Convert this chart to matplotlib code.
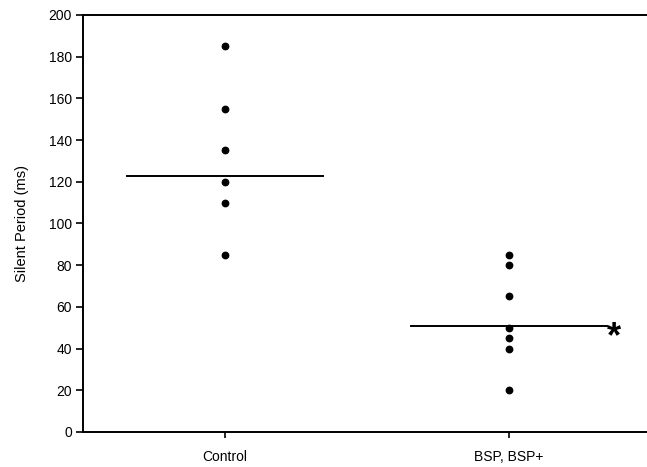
import matplotlib.pyplot as plt
import numpy as np

plt.rcParams['font.family'] = ['Liberation Sans', 'DejaVu Sans']

groups = ['Control', 'BSP, BSP+']
control = [185, 155, 135, 120, 110, 85]
bsp = [85, 80, 65, 50, 45, 40, 20]
group_lines = [123, 51]
yticks = [0, 20, 40, 60, 80, 100, 120, 140, 160, 180, 200]

fig = plt.figure(figsize=(6.47, 4.67), dpi=100)
ax = fig.add_axes([0.1283, 0.075, 0.8717, 0.893])

for i, vals in enumerate([control, bsp]):
    xpos = np.full(len(vals), i + 1)
    ax.plot(xpos, vals, 'o', color='black', markersize=4.6, zorder=3)
    ax.plot([i + 1 - 0.345, i + 1 + 0.345], [group_lines[i]] * 2,
            color='black', lw=1.4, zorder=2)

# significance mark
ax.text(2.37, group_lines[1] - 6, '*', fontsize=26, ha='center', va='center',
        fontweight='bold')

ax.set_xlim(0.5, 2.486)
ax.set_ylim(0, 200)
ax.set_yticks(yticks)
ax.set_xticks([1, 2])
ax.set_xticklabels(groups)
ax.set_ylabel('Silent Period (ms)', fontsize=10.5, labelpad=14)

ax.spines['right'].set_visible(False)
for s in ['left', 'top', 'bottom']:
    ax.spines[s].set_linewidth(1.4)
ax.tick_params(axis='y', direction='out', length=5, width=1.2, labelsize=10, pad=3)
ax.tick_params(axis='x', direction='out', length=4, width=1.2, labelsize=10, pad=9)

fig.savefig('out.png', dpi=100)
